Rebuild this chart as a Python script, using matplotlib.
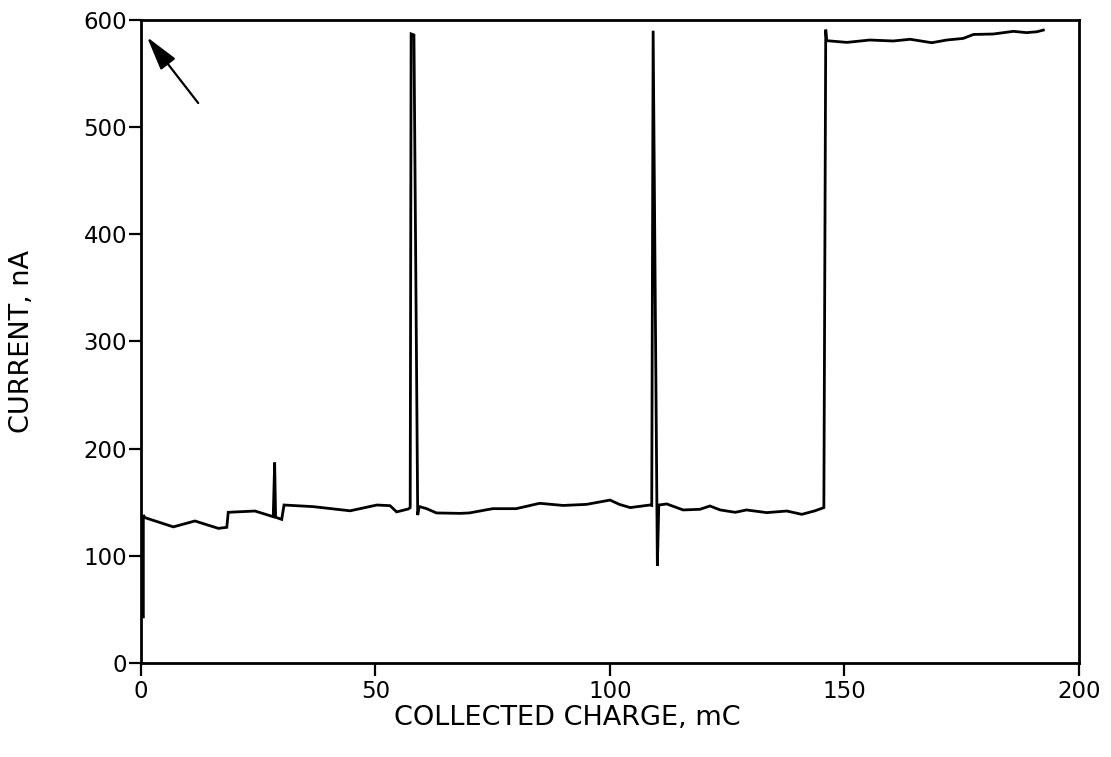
import matplotlib
matplotlib.use('Agg')
import matplotlib.pyplot as plt

plt.rcParams['font.family'] = ['DejaVu Sans']

# Current trace vs collected charge
charge = [0.5, 0.5, 0.85, 6.9, 11.5, 16.5, 18.3, 18.6, 24.3, 28.2, 28.5, 28.7, 30.0, 30.5,
          36.7, 44.6, 50.3, 53.1, 54.5, 57.0, 57.4, 57.6, 58.2, 59.0, 59.3, 60.9, 63.0, 68.0,
          70.0, 75.0, 80.0, 85.0, 90.0, 95.0, 100.0, 102.0, 104.3, 108.5, 108.9, 109.2, 110.1,
          110.4, 112.1, 115.6, 119.2, 121.3, 123.5, 126.7, 129.1, 133.4, 137.7, 140.9, 143.7,
          145.6, 146.0, 146.2, 150.5, 155.4, 160.4, 164.0, 168.6, 171.8, 175.3, 177.5, 181.7,
          186.0, 188.8, 191.0, 192.4]
current = [43, 138, 135.6, 127, 132.5, 125.6, 126.6, 140.6, 141.8, 136.5, 187, 136, 134, 147.4,
           145.9, 142, 147.4, 146.8, 141, 143.7, 145, 587, 586, 138, 146, 144, 140, 139.6,
           140, 144, 144, 149, 147, 148, 152, 148, 145, 147.4, 147, 590, 90.5,
           147.4, 148.4, 142.8, 143.4, 146.5, 142.8, 140.6, 142.8, 140.3, 141.8, 138.7, 142,
           145, 591, 580.7, 579.1, 581.3, 580.4, 582, 578.8, 581.3, 582.8, 586.5, 586.9,
           589.4, 588.2, 589, 590.6]

fig = plt.figure(figsize=(11.11, 7.57), dpi=100)
ax = fig.add_axes([0.1269, 0.1242, 0.8443, 0.8494])

ax.plot(charge, current, color='black', lw=2.0, solid_joinstyle='miter')

# arrow marking the start of the run
ax.annotate('', xy=(1.3, 584), xytext=(12.2, 522.5),
            arrowprops=dict(arrowstyle='-|>,head_length=1.4,head_width=0.38',
                            mutation_scale=15, color='black', lw=1.6,
                            shrinkA=0, shrinkB=0))

ax.set_xlim(0, 200)
ax.set_ylim(0, 600)
ax.set_xticks([0, 50, 100, 150, 200])
ax.set_yticks([0, 100, 200, 300, 400, 500, 600])
ax.tick_params(direction='out', length=9, width=1.6, labelsize=16.5)
ax.tick_params(axis='y', pad=1)
ax.tick_params(axis='x', pad=3)
for s in ax.spines.values():
    s.set_linewidth(2)

ax.set_xlabel('COLLECTED CHARGE, mC', fontsize=19.5, va='center')
ax.set_ylabel('CURRENT, nA', fontsize=19.5, va='center')
ax.xaxis.set_label_coords(0.455, -0.085)
ax.yaxis.set_label_coords(-0.127, 0.5)

fig.savefig('out.png', dpi=100)
